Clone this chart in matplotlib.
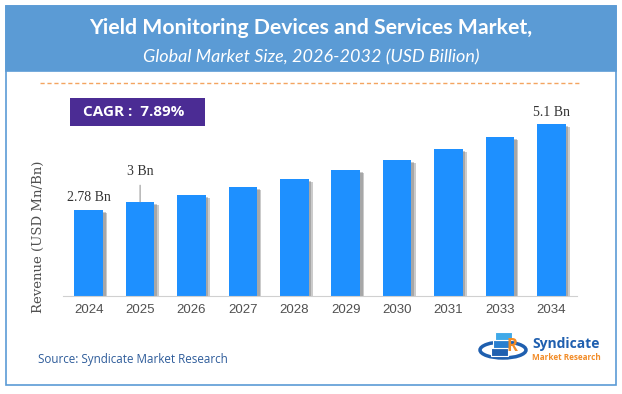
import matplotlib
matplotlib.use("Agg")
import matplotlib.pyplot as plt
import matplotlib.patheffects as pe
from matplotlib.patches import Rectangle, Ellipse
import numpy as np

# Data
years = ['2024', '2025', '2026', '2027', '2028', '2029', '2030', '2031', '2033', '2034']
revenue = [2.78, 3.0, 3.18, 3.40, 3.62, 3.86, 4.13, 4.43, 4.75, 5.1]
bar_labels = {0: '2.78 Bn', 1: '3 Bn', 9: '5.1 Bn'}

title = 'Yield Monitoring Devices and Services Market,'
subtitle = 'Global Market Size, 2026-2032 (USD Billion)'
cagr_text = 'CAGR :  7.89%'

W, H = 622, 394


def fx(x):
    return x / W


def fy(y):
    return 1 - y / H


fig = plt.figure(figsize=(W / 100, H / 100), dpi=100)
fig.patch.set_facecolor('white')

# outer frame and header band
fig.patches.append(Rectangle((fx(6), fy(385)), fx(610), (385 - 6) / H, transform=fig.transFigure,
                             facecolor='none', edgecolor='#5B9BD5', lw=1.2, zorder=0))
fig.patches.append(Rectangle((fx(6), fy(71)), fx(610), (71 - 6) / H, transform=fig.transFigure,
                             facecolor='#5B9BD5', edgecolor='#5B9BD5', lw=1.2, zorder=1))
fig.text(0.5, fy(28), title, ha='center', va='center', color='white',
         fontsize=15.3, fontweight='bold', family='Lato')
fig.text(0.5, fy(57), subtitle, ha='center', va='center', color='white',
         fontsize=13, style='italic', family='Lato')

# dashed orange separator
fig.add_artist(plt.Line2D([fx(40), fx(580)], [fy(83), fy(83)], transform=fig.transFigure,
                          color='#F4A460', lw=1, ls=(0, (3, 2))))

# CAGR box
fig.patches.append(Rectangle((fx(70), fy(126)), fx(135), 28 / H, transform=fig.transFigure,
                             facecolor='#4B2C94', edgecolor='none', zorder=2))
fig.text(fx(83), fy(112), cagr_text, ha='left', va='center', color='white',
         fontsize=11, fontweight='bold', family='Open Sans', zorder=3)

# bar chart
ax = fig.add_axes([fx(63), fy(296), fx(577 - 63), (296 - 100) / H], zorder=5)
ax.patch.set_alpha(0)
x = np.arange(len(years))
bars = ax.bar(x, revenue, width=0.56, color='#1E90FF', zorder=2)
for b in bars:
    b.set_path_effects([pe.SimplePatchShadow(offset=(3, -2), shadow_rgbFace='#555555', alpha=0.3),
                        pe.SimplePatchShadow(offset=(1.8, -1.2), shadow_rgbFace='#555555', alpha=0.3),
                        pe.Normal()])
ax.set_xlim(-0.5, len(years) - 0.5)
ax.set_ylim(0.46, 5.75)
ax.set_xticks(x)
ax.set_xticklabels(years, fontsize=9.5, color='#505050', family='Liberation Sans')
ax.tick_params(axis='x', length=0, pad=6)
ax.set_yticks([])
for s in ['top', 'right', 'left']:
    ax.spines[s].set_visible(False)
ax.spines['bottom'].set_color('#d0d0d0')

for i, lab in bar_labels.items():
    if i == 1:
        ax.annotate(lab, xy=(x[i], revenue[i]), xytext=(0, 17), textcoords='offset points',
                    ha='center', va='bottom', fontsize=10, color='#333333', family='Liberation Serif',
                    arrowprops=dict(arrowstyle='-', color='#999999', lw=0.8, shrinkA=3, shrinkB=0))
    else:
        ax.annotate(lab, xy=(x[i], revenue[i]), xytext=(0, 4), textcoords='offset points',
                    ha='center', va='bottom', fontsize=10, color='#333333', family='Liberation Serif')

fig.text(fx(38), fy(237), 'Revenue (USD Mn/Bn)', rotation=90, ha='center', va='center',
         fontsize=9.5, color='#505050', family='DejaVu Serif')

# source
fig.text(fx(38), fy(360), 'Source: Syndicate Market Research', ha='left', va='center',
         color='#2E5C9A', fontsize=8.4, family='Open Sans')

# logo (simplified)
fig.patches.append(Ellipse((fx(503), fy(350)), 46 / W, 16 / H, transform=fig.transFigure,
                           facecolor='none', edgecolor='#1F5FAF', lw=2.5, zorder=3))
for k, c in enumerate(['#1F5FAF', '#2A7FD0', '#3FA9E8']):
    fig.patches.append(Rectangle((fx(491 + 2 * k), fy(356 - 8 * k)), 17 / W, 8 / H,
                                 transform=fig.transFigure, facecolor=c, edgecolor='white',
                                 lw=0.8, zorder=4))
fig.text(fx(506), fy(346), 'R', color='#F28C28', fontsize=12, fontweight='bold',
         ha='left', va='center', family='Open Sans', zorder=5)
fig.text(fx(532), fy(344), 'Syndicate', color='#1F5FAF', fontsize=10, fontweight='bold',
         ha='left', va='center', family='Open Sans')
fig.text(fx(532), fy(358), 'Market Research', color='#F28C28', fontsize=5.9, fontweight='bold',
         ha='left', va='center', family='Open Sans')

fig.savefig('out.png', dpi=100)
